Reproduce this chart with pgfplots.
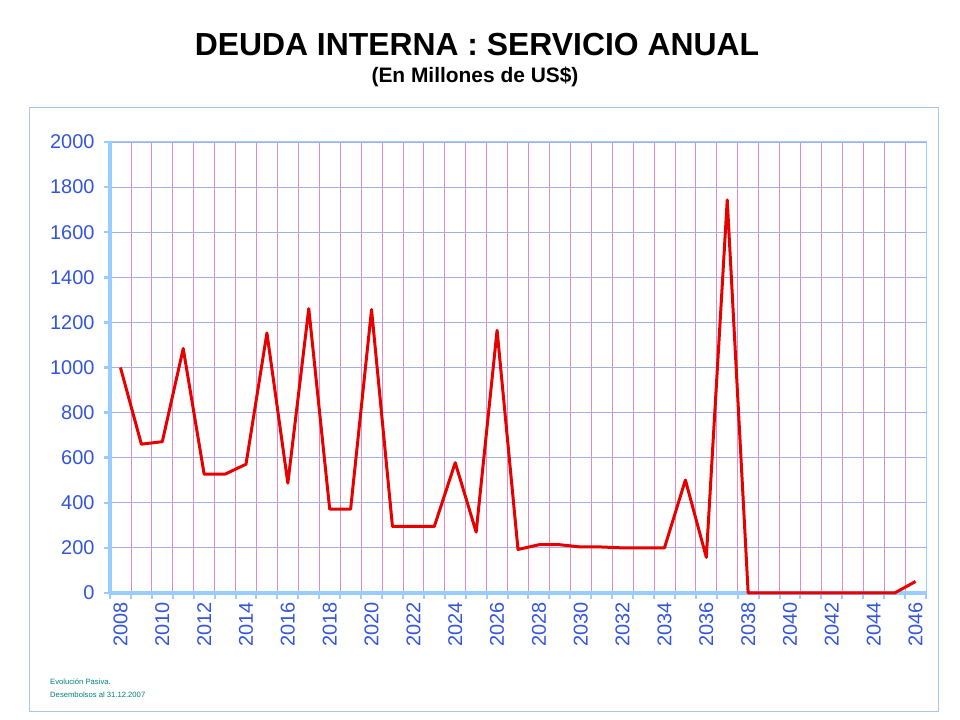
\documentclass[border=0pt]{standalone}
\usepackage{pgfplots}
\pgfplotsset{compat=1.18}
\usepackage{fontspec}
\setmainfont{Liberation Sans}
\definecolor{axblue}{RGB}{153,204,255}
\definecolor{lblblue}{RGB}{51,85,221}
\definecolor{gridv}{RGB}{228,140,190}
\definecolor{gridh}{RGB}{165,175,228}
\definecolor{framec}{RGB}{170,200,230}
\definecolor{footc}{RGB}{0,128,128}
\definecolor{linered}{RGB}{230,0,0}
\begin{document}
\begin{tikzpicture}[x=1bp,y=1bp]
\path[fill=white] (0,0) rectangle (960,720);
\draw[framec, line width=1bp] (29.5,8.5) rectangle (938,612);
\node[font=\fontsize{32}{36}\selectfont\bfseries] at (477,675) {DEUDA INTERNA : SERVICIO ANUAL};
\node[font=\fontsize{21}{24}\selectfont\bfseries] at (475,643) {(En Millones de US\$)};
\node[anchor=west, text=footc, font=\fontsize{7.7}{9}\selectfont, inner sep=0pt] at (50,38) {Evolución Pasiva.};
\node[anchor=west, text=footc, font=\fontsize{7.7}{9}\selectfont, inner sep=0pt] at (50,25) {Desembolsos al 31.12.2007};
\begin{axis}[at={(110bp,127bp)}, anchor=south west, width=816bp, height=451bp, scale only axis,
  xmin=2007.5, xmax=2046.5, ymin=0, ymax=2000,
  xtick={2008,2010,...,2046},
  minor xtick={2007.5,2008.5,...,2046.5},
  ytick={0,200,...,2000},
  xtick pos=bottom, ytick pos=left,
  xminorgrids=true, ymajorgrids=true,
  minor x grid style={gridv, line width=0.8bp},
  major y grid style={gridh, line width=0.8bp},
  tick align=outside,
  major tick length=6bp, minor tick length=6bp,
  major x tick style={draw=none},
  minor x tick style={axblue, line width=2bp},
  major y tick style={axblue, line width=2.5bp},
  axis line style={axblue, line width=1bp},
  /pgf/number format/1000 sep={},
  /pgf/number format/assume math mode=true,
  ticklabel style={font=\fontsize{20}{24}\selectfont, text=lblblue},
  xticklabel style={rotate=90, anchor=east},
  yticklabel style={xshift=-6bp},
  clip=false,
]
\draw[axblue, line width=3.5bp] (rel axis cs:0,0) -- (rel axis cs:0,1);
\draw[axblue, line width=3.5bp] (rel axis cs:0,0) -- (rel axis cs:1,0);
\addplot[linered, line width=3bp, line join=round] coordinates {
(2008,1000) (2009,660) (2010,671) (2011,1084) (2012,527) (2013,527) (2014,571)
(2015,1153) (2016,487) (2017,1261) (2018,372) (2019,372) (2020,1257) (2021,295)
(2022,295) (2023,295) (2024,578) (2025,270) (2026,1165) (2027,193) (2028,214)
(2029,214) (2030,204) (2031,204) (2032,200) (2033,200) (2034,200) (2035,501)
(2036,158) (2037,1743) (2038,0) (2039,0) (2040,0) (2041,0) (2042,0) (2043,0)
(2044,0) (2045,0) (2046,51)
};
\end{axis}
\end{tikzpicture}
\end{document}
